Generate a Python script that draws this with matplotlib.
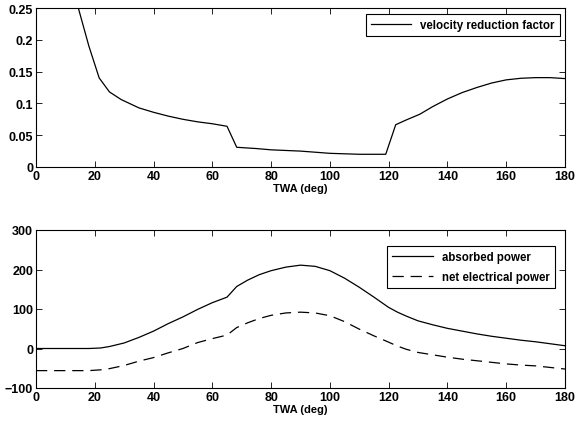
import numpy as np
import matplotlib.pyplot as plt

plt.rcParams['font.family'] = ['Liberation Sans', 'DejaVu Sans']
plt.rcParams['font.weight'] = 'bold'
plt.rcParams['font.size'] = 8

# velocity reduction factor vs true wind angle
twa_v = [10, 14.4, 18, 21.5, 25, 29, 35, 40, 45, 50, 55, 60, 65, 68.3, 75, 80, 90,
         100, 110, 119, 122.4, 126, 130.6, 135, 140, 145, 150, 155, 160, 165, 170, 175, 180]
vrf = [0.33, 0.25, 0.19, 0.14, 0.118, 0.106, 0.093, 0.086, 0.080, 0.075, 0.071, 0.068, 0.064, 0.031, 0.029, 0.027, 0.025,
       0.0215, 0.020, 0.020, 0.0665, 0.074, 0.083, 0.095, 0.107, 0.117, 0.125, 0.132, 0.137, 0.1395, 0.1405, 0.1405, 0.139]

# power curves
twa_p = [0, 10, 18, 22, 25, 30, 35, 40, 45, 50, 55, 60, 65, 68.3, 72, 76, 80, 85, 90,
         95, 100, 105, 110, 115, 120, 123, 126, 130, 135, 140, 145, 150, 155, 160, 165, 170, 175, 180]
absorbed = [0, 0, 0, 1.3, 5, 14, 28, 44, 63, 80, 99, 116, 130, 157, 173, 187, 197, 206, 211,
            208, 197, 178, 155, 130, 104, 92, 82, 70, 60, 51, 44, 37, 31, 26, 21, 17, 12, 7]
net_elec = [-56, -56, -56, -54, -51, -43, -32, -23, -11, 0, 15, 25, 34, 53, 65, 76, 84, 90, 92,
            90, 83, 68, 49, 32, 16, 6, -2, -10, -16, -22, -27, -31, -35, -39, -42, -44, -48, -52]

fig = plt.figure(figsize=(5.76, 4.27), dpi=100)
ax1 = fig.add_axes([36/576, 1-168/427, 529/576, 159/427])
ax2 = fig.add_axes([36/576, 1-389/427, 529/576, 158/427])

ax1.plot(twa_v, vrf, color='black', lw=0.9, label='velocity reduction factor')
ax1.set_xlim(0, 180)
ax1.set_ylim(0, 0.25)
ax1.set_yticks([0, 0.05, 0.1, 0.15, 0.2, 0.25])
ax1.set_yticklabels(['0', '0.05', '0.1', '0.15', '0.2', '0.25'])

ax2.plot(twa_p, absorbed, color='black', lw=0.9, label='absorbed power')
ax2.plot(twa_p, net_elec, color='black', lw=0.9, ls=(0, (9, 5.5)), label='net electrical power')
ax2.set_xlim(0, 180)
ax2.set_ylim(-100, 300)
ax2.set_yticks([-100, 0, 100, 200, 300])

for ax in (ax1, ax2):
    ax.set_xticks(range(0, 181, 20))
    ax.set_xlabel('TWA (deg)', fontweight='bold', fontsize=8, labelpad=1)
    ax.tick_params(direction='in', top=True, right=True, length=4, width=0.6,
                   pad=2, labelsize=9)
    for s in ax.spines.values():
        s.set_linewidth(0.8)

leg1 = ax1.legend(loc='upper right', bbox_to_anchor=(0.9905, 0.962), borderaxespad=0,
                  fancybox=False, edgecolor='black', framealpha=1, handlelength=3.5,
                  borderpad=0.45, fontsize=8.3)
leg2 = ax2.legend(loc='upper right', bbox_to_anchor=(0.981, 0.899), borderaxespad=0,
                  fancybox=False, edgecolor='black', framealpha=1, handlelength=3.5,
                  borderpad=0.45, labelspacing=0.65, fontsize=8.3)
for leg in (leg1, leg2):
    leg.get_frame().set_linewidth(0.8)

fig.savefig('out.png', dpi=100)
